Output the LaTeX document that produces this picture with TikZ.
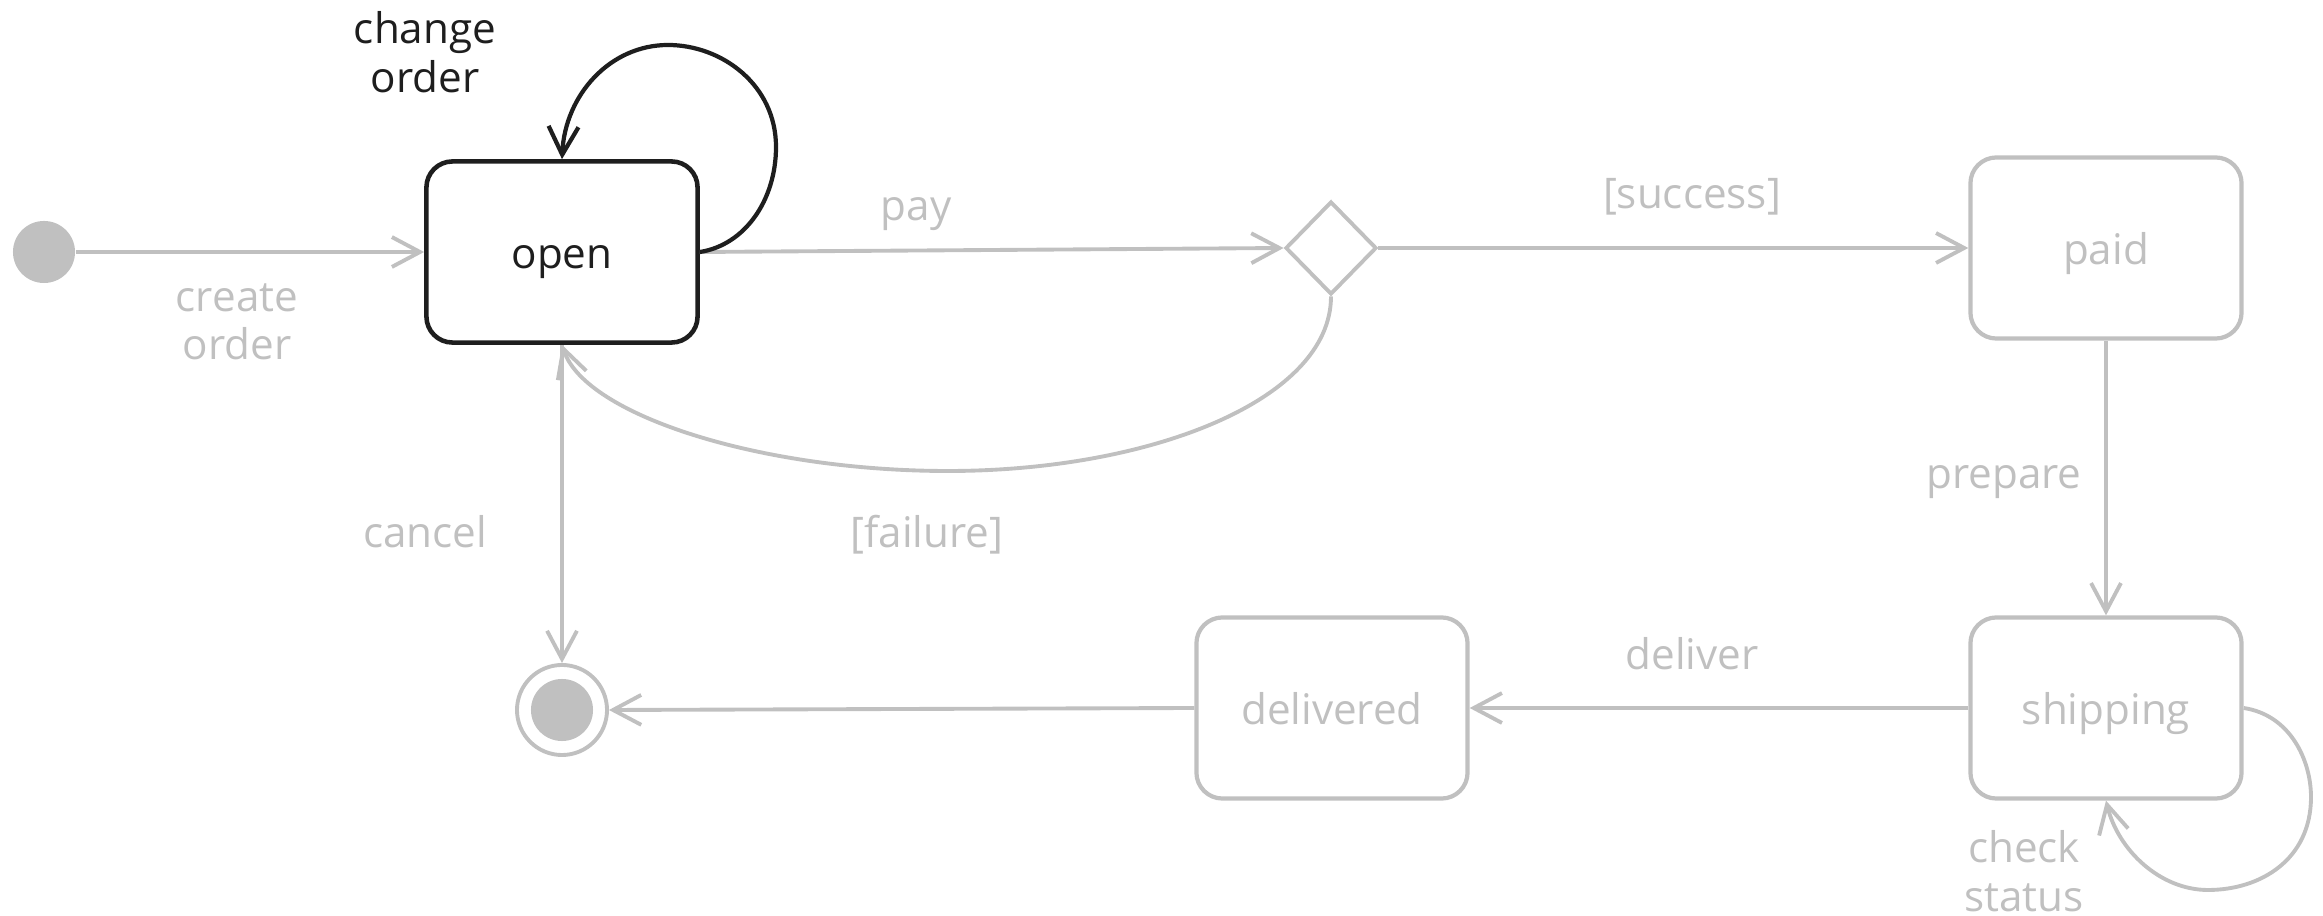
\documentclass[tikz,border=0pt]{standalone}
\usepackage{fontspec}
\setmainfont{Open Sans}
\usetikzlibrary{arrows.meta,shapes.geometric}
\definecolor{lg}{HTML}{C0C0C0}
\definecolor{dk}{HTML}{1E1E1E}
\begin{document}
\begin{tikzpicture}[x=0.01cm,y=-0.01cm,
  state/.style={draw=lg,line width=1.2pt,rounded corners=0.26cm,minimum width=2.71cm,minimum height=1.81cm,inner sep=0pt,text=lg,font=\fontsize{12pt}{14pt}\selectfont,text height=1.17em,text depth=0.25em},
  lbl/.style={text=lg,align=center,inner sep=0pt,font=\fontsize{12pt}{13.8pt}\selectfont},
  lbl1/.style={lbl,text height=1.07em,text depth=0.25em},
  conn/.style={draw=lg,line width=1.1pt,-{Straight Barb[length=8pt,width=8.5pt,line width=1.1pt]}}]
\useasboundingbox (0,0) rectangle (2323,916);
% nodes
\node[circle,fill=lg,minimum size=0.62cm,inner sep=0pt] (init) at (44,252) {};
\node[state,draw=dk,text=dk,line width=1.3pt] (open) at (562,252) {open};
\node[diamond,draw=lg,line width=1.1pt,minimum width=0.91cm,minimum height=0.93cm,inner sep=0pt] (dec) at (1331,248) {};
\node[state] (paid) at (2106,248) {paid};
\node[state] (ship) at (2106,708) {shipping};
\node[state] (deliv) at (1332,708) {delivered};
\node[circle,draw=lg,fill=white,line width=1.1pt,minimum size=0.9cm,inner sep=0pt] (final) at (562,710) {};
\node[circle,fill=lg,minimum size=0.62cm,inner sep=0pt] (finalin) at (562,710) {};
% connectors
\draw[conn] (init) -- (open.west);
\draw[conn] (open.east) -- (dec.west);
\draw[conn] (dec.east) -- (paid.west);
\draw[conn] (dec.south) .. controls (1331,400) and (1150,471) .. (948,471)
   .. controls (760,471) and (585,415) .. (open.south);
\draw[conn,line width=0.9pt] (open.south) -- (final.north);
\draw[conn,line width=0.9pt] (paid.south) -- (ship.north);
\draw[conn] (ship.west) -- (deliv.east);
\draw[conn] (deliv.west) -- (final.east);
\draw[conn] (ship.east) .. controls (2290,715) and (2311,760) .. (2311,797)
   .. controls (2311,860) and (2260,890) .. (2208,890)
   .. controls (2160,890) and (2118,850) .. (ship.south);
\draw[conn,draw=dk,-{Straight Barb[length=8pt,width=8.5pt,line width=1.2pt]},line width=1.2pt] (open.east) .. controls (745,245) and (776,200) .. (776,147)
   .. controls (776,85) and (722,45) .. (668,45)
   .. controls (610,45) and (565,95) .. (open.north);
% labels
\node[lbl,text=dk] (lchange) at (425,52) {change\\order};
\node[lbl] (lcreate) at (237,322) {create\\order};
\node[lbl1] (lpay) at (916,206) {pay};
\node[lbl1] (lsucc) at (1692,194) {[success]};
\node[lbl1] (lprep) at (2004,474) {prepare};
\node[lbl1] (lcancel) at (425,533) {cancel};
\node[lbl1] (lfail) at (927,533) {[failure]};
\node[lbl1] (ldeliver) at (1692,655) {deliver};
\node[lbl] (lcheck) at (2024,871) {check\\status};
\end{tikzpicture}
\end{document}
